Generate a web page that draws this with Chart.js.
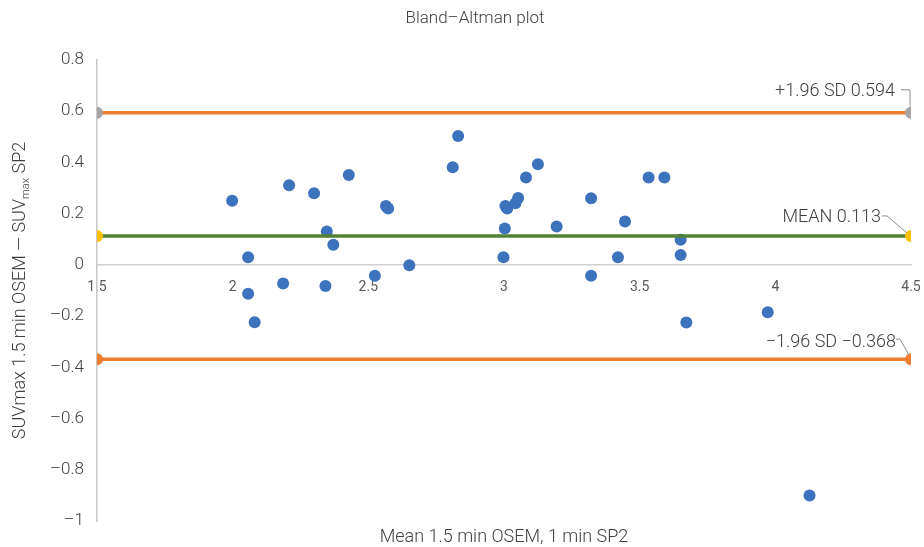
<!DOCTYPE html>
<html>
<head>
<meta charset="utf-8">
<script src="https://cdn.jsdelivr.net/npm/chart.js@4/dist/chart.umd.min.js"></script>
<style>
  html, body { margin: 0; background: #fff; }
  #wrap { width: 924px; height: 547px; }
</style>
</head>
<body>
<div id="wrap"><canvas id="chart"></canvas></div>
<script>
// mean of the two methods (x) and their difference (y)
const meanX = [1.998, 2.057, 2.057, 2.081, 2.186, 2.208, 2.300, 2.342, 2.347, 2.371, 2.428, 2.524, 2.565,
               2.573, 2.651, 2.811, 2.831, 2.998, 3.003, 3.005, 3.012, 3.042, 3.052, 3.081, 3.125, 3.194,
               3.321, 3.321, 3.420, 3.446, 3.533, 3.591, 3.651, 3.651, 3.672, 3.972, 4.126];
const diffY = [0.250, 0.030, -0.113, -0.224, -0.073, 0.311, 0.280, -0.082, 0.130, 0.079, 0.351, -0.042, 0.230,
               0.220, -0.001, 0.381, 0.503, 0.030, 0.142, 0.230, 0.220, 0.241, 0.261, 0.341, 0.393, 0.150,
               0.260, -0.042, 0.030, 0.169, 0.341, 0.341, 0.098, 0.039, -0.225, -0.185, -0.900];

const xEnds = [1.5, 4.5];
const upperLoA = 0.594;
const meanDiff = 0.113;
const lowerLoA = -0.368;

const FONT = 'Roboto, "Liberation Sans", sans-serif';
const TXT = '#404040';

const points = meanX.map((x, i) => ({x: x, y: diffY[i]}));
const hline = v => xEnds.map(x => ({x: x, y: v}));

// labels with little leader lines at the right end of the three lines
const loaLabels = {
  id: 'loaLabels',
  afterDatasetsDraw(chart) {
    const {ctx, scales: {x, y}} = chart;
    const px = x.getPixelForValue(xEnds[1]);
    ctx.save();
    ctx.font = '300 18px ' + FONT;
    ctx.fillStyle = TXT;
    ctx.textAlign = 'right';
    ctx.textBaseline = 'middle';
    ctx.strokeStyle = '#8c8c8c';
    ctx.lineWidth = 1;

    let py = y.getPixelForValue(upperLoA);
    ctx.fillText('+1.96 SD 0.594', px - 16, py - 21);
    ctx.beginPath();
    ctx.moveTo(px - 10, py - 23); ctx.lineTo(px - 1, py - 23); ctx.lineTo(px - 1, py - 6);
    ctx.stroke();

    py = y.getPixelForValue(meanDiff);
    ctx.fillText('MEAN 0.113', px - 30, py - 18);
    ctx.beginPath();
    ctx.moveTo(px - 29, py - 20); ctx.lineTo(px - 24, py - 20); ctx.lineTo(px - 4, py - 3);
    ctx.stroke();

    py = y.getPixelForValue(lowerLoA);
    ctx.fillText('\u22121.96 SD \u22120.368', px - 15, py - 17);
    ctx.beginPath();
    ctx.moveTo(px - 15, py - 20); ctx.lineTo(px - 11, py - 20); ctx.lineTo(px - 2, py - 4);
    ctx.stroke();
    ctx.restore();
  }
};

// titles: chart title, x title under the plot, y title with the subscript
const titles = {
  id: 'titles',
  afterDraw(chart) {
    const {ctx, chartArea} = chart;
    const midX = (chartArea.left + chartArea.right) / 2;
    const midY = (chartArea.top + chartArea.bottom) / 2;
    ctx.save();
    ctx.fillStyle = TXT;
    ctx.textAlign = 'center';
    ctx.textBaseline = 'middle';
    ctx.font = '300 17px ' + FONT;
    ctx.fillText('Bland\u2013Altman plot', 475, 19);
    ctx.font = '300 18px ' + FONT;
    ctx.fillText('Mean 1.5 min OSEM, 1 min SP2', midX, 537);

    ctx.translate(20, midY);
    ctx.rotate(-Math.PI / 2);
    ctx.textBaseline = 'middle';
    const big = '300 18px ' + FONT, small = '300 11px ' + FONT;
    const parts = [['SUVmax 1.5 min OSEM \u2014 SUV', big, 0], ['max', small, 6], [' SP2', big, 0]];
    let w = 0;
    parts.forEach(p => { ctx.font = p[1]; w += ctx.measureText(p[0]).width; });
    let cx = -w / 2;
    ctx.textAlign = 'left';
    parts.forEach(p => {
      ctx.font = p[1];
      ctx.fillText(p[0], cx, p[2]);
      cx += ctx.measureText(p[0]).width;
    });
    ctx.restore();
  }
};

const fmtY = v => {
  const s = Math.abs(v).toFixed(1).replace(/\.0$/, '');
  return v < -1e-9 ? '\u2013' + s : (Math.abs(v) < 1e-9 ? '0' : s);
};

new Chart('chart', {
  type: 'scatter',
  data: {
    datasets: [
      {type: 'line', data: hline(upperLoA), borderColor: '#ed7d31', borderWidth: 3.5,
       pointBackgroundColor: '#a5a5a5', pointBorderWidth: 0, pointRadius: 6},
      {type: 'line', data: hline(meanDiff), borderColor: '#548235', borderWidth: 3.5,
       pointBackgroundColor: '#ffc000', pointBorderWidth: 0, pointRadius: 6},
      {type: 'line', data: hline(lowerLoA), borderColor: '#ed7d31', borderWidth: 3.5,
       pointBackgroundColor: '#ed7d31', pointBorderWidth: 0, pointRadius: 6},
      {data: points, backgroundColor: '#3d72bd', pointBorderWidth: 0, pointRadius: 6}
    ]
  },
  options: {
    responsive: true,
    maintainAspectRatio: false,
    animation: false,
    layout: {padding: {left: 0, right: 13, top: 60, bottom: 26}},
    plugins: {
      legend: {display: false},
      tooltip: {enabled: false}
    },
    scales: {
      x: {
        type: 'linear', position: {y: 0}, min: 1.5, max: 4.5,
        afterFit: s => { s.paddingLeft = 0; s.paddingRight = 0; },
        grid: {display: false, drawTicks: false},
        border: {color: '#d0d0d0', width: 1.5},
        ticks: {stepSize: 0.5, color: '#595959', padding: 14, font: {family: FONT, size: 14},
                callback: v => String(v)}
      },
      y: {
        min: -1, max: 0.8,
        afterFit: s => { s.width = 97; },
        grid: {display: false, drawTicks: false},
        border: {color: '#c8c8c8', width: 1.5},
        ticks: {stepSize: 0.2, color: TXT, padding: 13, font: {family: FONT, size: 17, weight: 300},
                callback: v => fmtY(v)}
      }
    }
  },
  plugins: [loaLabels, titles]
});
</script>
</body>
</html>
